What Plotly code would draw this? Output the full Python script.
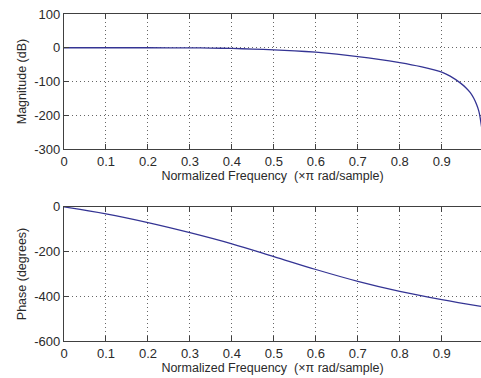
import plotly.graph_objects as go
from plotly.subplots import make_subplots

# Normalized frequency (x pi rad/sample)
freq_mag = [0, 0.1, 0.2, 0.3, 0.35, 0.4, 0.45, 0.5, 0.55, 0.6, 0.65, 0.7, 0.75,
            0.8, 0.85, 0.9, 0.92, 0.944, 0.958, 0.968, 0.976, 0.983, 0.988, 0.991, 0.995]
magnitude_db = [0, 0, 0, -0.3, -1, -2, -3.8, -6, -9.2, -13.2, -19, -26, -34.5,
                -44, -56, -72, -84, -104, -119, -133, -149, -168, -186, -203, -235]

freq_phase = [0, 0.1, 0.2, 0.3, 0.4, 0.5, 0.6, 0.7, 0.8, 0.9, 1.0]
phase_deg = [0, -31, -70, -115, -165, -222, -280, -333, -378, -415, -447]

x_ticks = [0, 0.1, 0.2, 0.3, 0.4, 0.5, 0.6, 0.7, 0.8, 0.9]
mag_ticks = [100, 0, -100, -200, -300]
phase_ticks = [0, -200, -400, -600]

line_color = "#343494"
text_color = "#2a2a2a"
font_family = "Liberation Sans, Arial, sans-serif"

fig = make_subplots(rows=2, cols=1, vertical_spacing=0.17)
fig.add_trace(go.Scatter(x=freq_mag, y=magnitude_db, mode="lines",
                         line=dict(color=line_color, width=1.3, shape="spline", smoothing=0.5)),
              row=1, col=1)
fig.add_trace(go.Scatter(x=freq_phase, y=phase_deg, mode="lines",
                         line=dict(color=line_color, width=1.3, shape="spline", smoothing=1.0)),
              row=2, col=1)

ax_common = dict(showline=True, linecolor="#404040", linewidth=1.2,
                 ticks="inside", ticklen=5, tickcolor="#404040",
                 showgrid=True, gridcolor="#666666", griddash="1px,3px", gridwidth=1,
                 zeroline=False, tickfont=dict(size=13, color=text_color))

for r in (1, 2):
    fig.update_xaxes(range=[0, 0.9935], tickvals=x_ticks, ticktext=[f"{t:g}" for t in x_ticks],
                     mirror="ticks",
                     title=dict(text="Normalized Frequency  (\u00d7\u03c0 rad/sample)",
                                font=dict(size=12.5, color=text_color), standoff=1),
                     row=r, col=1, **ax_common)

fig.update_yaxes(range=[-300, 100], tickvals=mag_ticks, ticktext=[str(t) for t in mag_ticks],
                 mirror=False,
                 title=dict(text="Magnitude (dB)", font=dict(size=12.5, color=text_color), standoff=4),
                 row=1, col=1, **ax_common)
fig.update_yaxes(range=[-600, 0], tickvals=phase_ticks, ticktext=[str(t) for t in phase_ticks],
                 mirror=False,
                 title=dict(text="Phase (degrees)", font=dict(size=12.5, color=text_color), standoff=4),
                 row=2, col=1, **ax_common)

fig.update_layout(
    width=481, height=378,
    margin=dict(l=64, r=0, t=14, b=37),
    paper_bgcolor="white", plot_bgcolor="white",
    showlegend=False,
    font=dict(family=font_family, size=12, color=text_color),
)
fig.update_layout(yaxis=dict(domain=[0.587, 1.0]), yaxis2=dict(domain=[0.0, 0.41]))

fig.write_html("out.html")
